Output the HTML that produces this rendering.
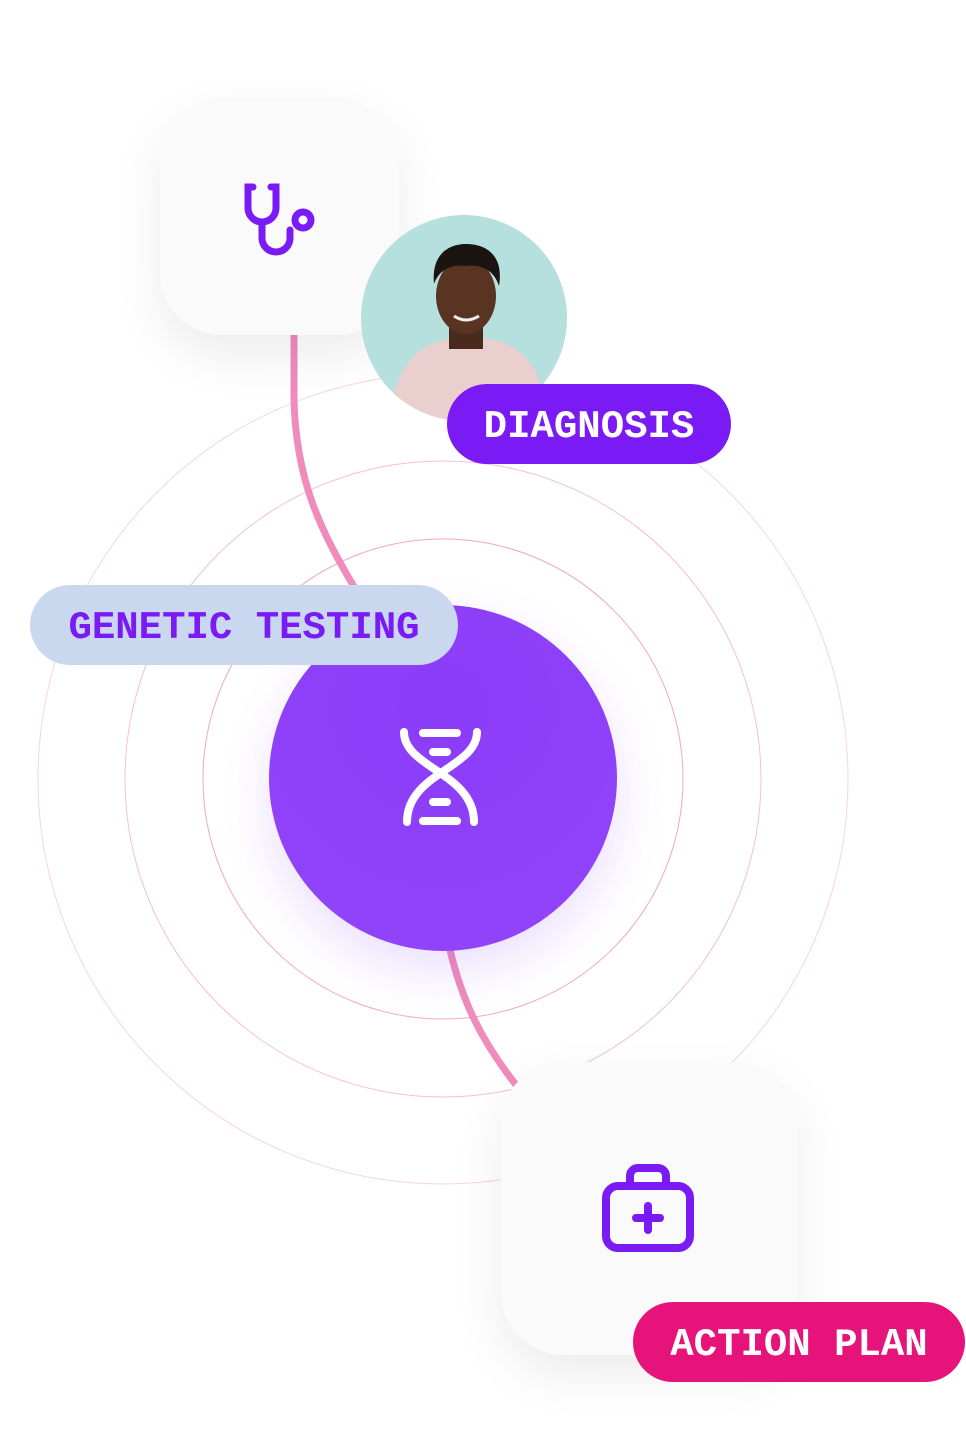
<!DOCTYPE html>
<html><head><meta charset="utf-8"><style>
html,body{margin:0;padding:0;background:#fff;}
body{width:966px;height:1455px;position:relative;overflow:hidden;font-family:"Liberation Mono",monospace;}
.card{position:absolute;background:#fafafa;border-radius:62px;box-shadow:0 20px 50px rgba(0,0,0,0.08);}
.pill{position:absolute;border-radius:40px;font-weight:bold;font-size:39px;display:flex;align-items:center;justify-content:center;height:80px;box-sizing:border-box;padding-top:6px;}
</style></head><body>
<svg width="966" height="1455" style="position:absolute;left:0;top:0">
<circle cx="443" cy="779" r="240" fill="none" stroke="#f2a6c4" stroke-width="1"/>
<circle cx="443" cy="779" r="318" fill="none" stroke="#f5bfd4" stroke-width="1"/>
<circle cx="443" cy="779" r="405" fill="none" stroke="#f8d3e1" stroke-width="1"/>
<path d="M294 335 L294 400 C296 480 320 530 356 590" fill="none" stroke="#ef8cbb" stroke-width="7"/>
<path d="M450 950 C462 1000 480 1040 520 1090" fill="none" stroke="#ef8cbb" stroke-width="7"/>
</svg>
<div class="card" style="left:160px;top:99px;width:239px;height:236px;"></div>
<svg width="80" height="80" style="position:absolute;left:239px;top:180px" viewBox="0 0 80 80">
<g fill="none" stroke="#7a1af5" stroke-width="7" stroke-linecap="round">
<path d="M14 7 H9 V28 A14 14 0 0 0 37 28 V7 H32"/>
<path d="M23 42 V58 A14 14 0 0 0 51 58 V50"/>
<circle cx="64" cy="40" r="8"/>
</g></svg>
<svg width="210" height="210" style="position:absolute;left:359px;top:214px" viewBox="0 0 210 210">
<defs><clipPath id="c"><circle cx="105" cy="104" r="103"/></clipPath></defs>
<circle cx="105" cy="104" r="103" fill="#b5e0de"/>
<g clip-path="url(#c)">
<path d="M30 210 C35 150 60 130 90 125 L130 125 C160 130 185 150 190 210 Z" fill="#e9cfcd"/>
<rect x="90" y="100" width="34" height="35" fill="#4a2a1c"/>
<ellipse cx="107" cy="82" rx="30" ry="38" fill="#5a3423"/>
<path d="M75 70 C72 40 90 30 107 30 C128 30 145 42 140 72 C135 55 120 50 107 52 C92 50 80 56 75 70Z" fill="#1c1410"/>
<path d="M95 102 Q107 110 120 102" stroke="#eee" stroke-width="3" fill="none"/>
</g></svg>
<div class="pill" style="left:447px;top:384px;width:284px;background:#7a1af5;color:#fff;">DIAGNOSIS</div>
<div style="position:absolute;left:269px;top:605px;width:348px;height:346px;border-radius:50%;background:radial-gradient(circle at 50% 30%,#8b3cf7,#9145fa);box-shadow:0 20px 50px rgba(120,40,240,0.15);"></div>
<svg width="100" height="120" style="position:absolute;left:390px;top:718px" viewBox="0 0 100 120">
<g fill="none" stroke="#fff" stroke-width="8" stroke-linecap="round">
<path d="M14 14 C14 50 84 55 84 104"/>
<path d="M87 14 C87 50 17 55 17 104"/>
<line x1="33" y1="15" x2="67" y2="15"/><line x1="43" y1="34" x2="57" y2="34"/>
<line x1="43" y1="84" x2="57" y2="84"/><line x1="33" y1="103" x2="67" y2="103"/>
</g></svg>
<div class="pill" style="left:30px;top:585px;width:428px;background:#c9d8ee;color:#7a1af5;">GENETIC TESTING</div>
<div class="card" style="left:501px;top:1062px;width:296px;height:293px;"></div>
<svg width="96" height="96" style="position:absolute;left:600px;top:1160px" viewBox="0 0 96 96">
<g fill="none" stroke="#7a1af5" stroke-width="8" stroke-linecap="round" stroke-linejoin="round">
<rect x="6" y="26" width="84" height="62" rx="12"/>
<path d="M30 26 V16 A8 8 0 0 1 38 8 H58 A8 8 0 0 1 66 16 V26"/>
<line x1="48" y1="46" x2="48" y2="70"/><line x1="36" y1="58" x2="60" y2="58"/>
</g></svg>
<div class="pill" style="left:633px;top:1302px;width:332px;background:#e5137a;color:#fff;">ACTION PLAN</div>
</body></html>
